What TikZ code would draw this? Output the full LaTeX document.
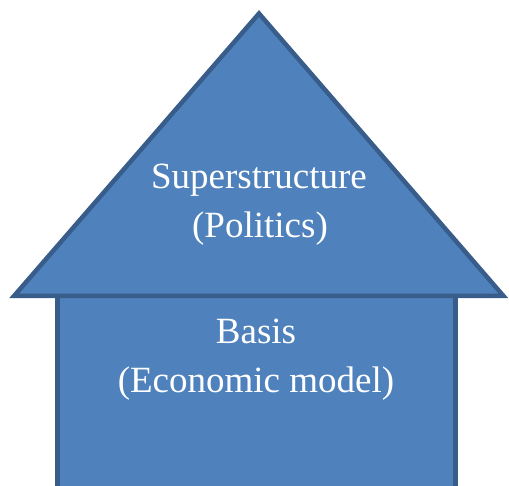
\documentclass[tikz,border=0pt]{standalone}
\usepackage{fontspec}
\setmainfont{Liberation Serif}
\definecolor{shapefill}{HTML}{4F81BD}
\definecolor{shapeline}{HTML}{385D8A}
\begin{document}
\begin{tikzpicture}[x=1pt,y=-1pt,
  part/.style={fill=shapefill,draw=shapeline,line width=4.5pt,line join=miter},
  label/.style={text=white,inner sep=0pt,anchor=base,font=\fontsize{37}{44}\selectfont}]
\useasboundingbox (0,0) rectangle (509,486);
\coordinate (bl) at (57.5,296);
\coordinate (tr) at (455.5,500);
\draw[part] (bl) rectangle (tr);
\coordinate (left) at (14,296);
\coordinate (apex) at (259,13.5);
\coordinate (right) at (503.5,296);
\draw[part] (left) -- (apex) -- (right) -- cycle;
\node[label] (sup) at (259,189) {Superstructure};
\node[label] (pol) at (260,238) {(Politics)};
\node[label] (bas) at (256,343.5) {Basis};
\node[label] (eco) at (256,393) {(Economic model)};
\end{tikzpicture}
\end{document}
